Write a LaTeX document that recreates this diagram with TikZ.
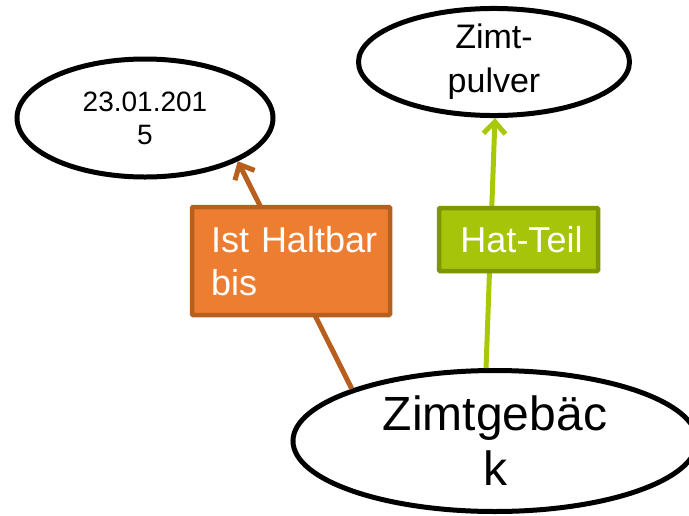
\documentclass[tikz,border=0pt]{standalone}
\usepackage{fontspec}
\setmainfont{Liberation Sans}
\usetikzlibrary{shapes.geometric,arrows.meta}
\definecolor{orfill}{HTML}{ED7D31}
\definecolor{ordark}{HTML}{B65F1F}
\definecolor{grfill}{HTML}{A5C40A}
\definecolor{grdark}{HTML}{7E9600}
\definecolor{grline}{HTML}{A8C80A}
\begin{document}
\begin{tikzpicture}[x=1pt,y=-1pt,
  ell/.style={ellipse,draw=black,line width=5pt,fill=white,inner sep=0pt,align=center},
  relbox/.style={draw,line width=4.5pt,inner ysep=0pt,text=white,rounded corners=1pt},
  conn/.style={line width=5pt,-{Straight Barb[length=12pt,width=22pt,line width=5pt]}}
]
\useasboundingbox (0,0) rectangle (689,515);
\node[ell,minimum width=256pt,minimum height=118pt,font=\fontsize{28}{33}\selectfont] (date) at (145,118) {23.01.201\\5};
\node[ell,minimum width=271pt,minimum height=103pt,font=\fontsize{34}{44}\selectfont] (pulver) at (494,62) {Zimt-\\pulver};
\node[ell,minimum width=404pt,minimum height=141pt,font=\fontsize{48}{55}\selectfont] (zg) at (495,441) {Zimtgebäc\\k};
\draw[conn,ordark] (zg.160) -- (date.-25);
\draw[conn,grline] (zg.97) -- (pulver.-89);
\node[relbox,draw=ordark,fill=orfill,minimum height=108pt,inner xsep=19pt,text width=160pt,align=left,font=\fontsize{36}{43}\selectfont] (hb) at (291,261) {\mbox{Ist Haltbar}\\bis};
\node[relbox,draw=grdark,fill=grfill,minimum height=63pt,minimum width=159pt,font=\fontsize{36}{43}\selectfont] (ht) at (518.5,239.5) {\hspace{6pt}Hat-Teil};
\end{tikzpicture}
\end{document}
